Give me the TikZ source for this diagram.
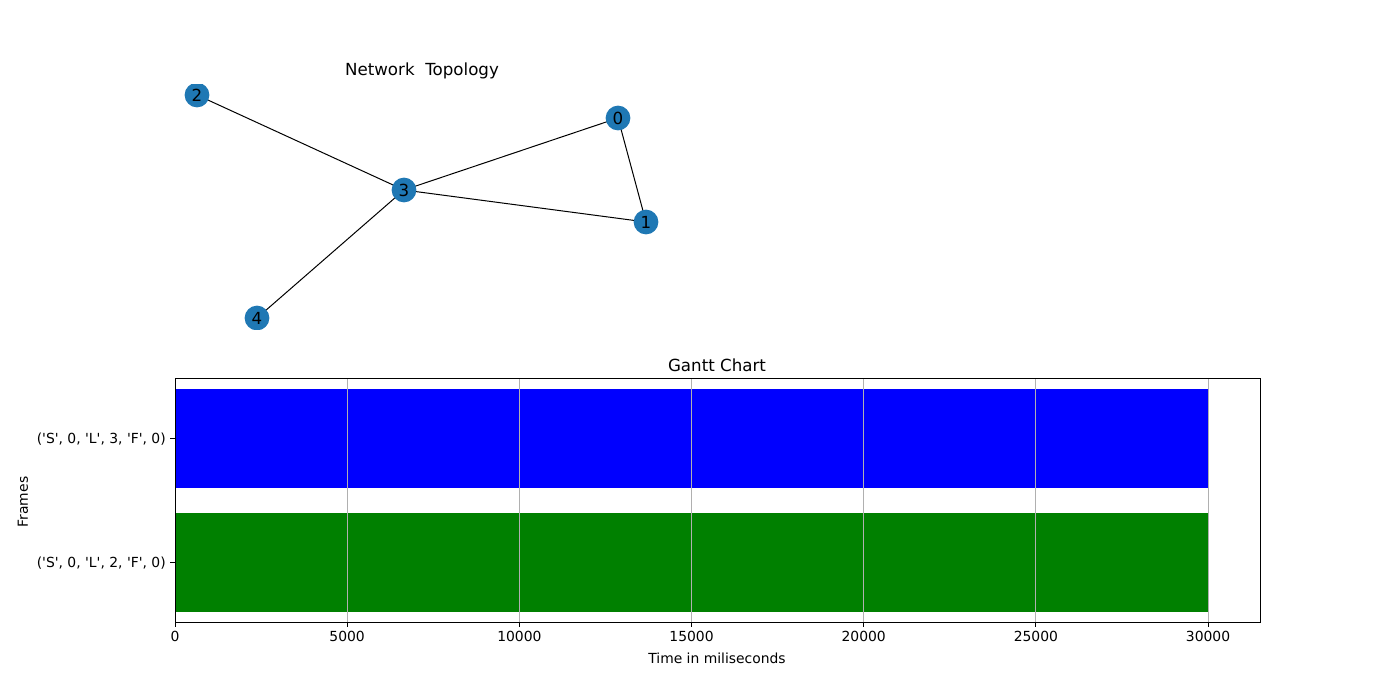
\documentclass[tikz,border=0pt]{standalone}
\usepackage{fontspec}
\setmainfont{DejaVu Sans}
\newcommand{\sqt}{\textquotesingle}
\definecolor{nxblue}{HTML}{1F78B4}
\definecolor{gridgray}{HTML}{B0B0B0}
\definecolor{mplgreen}{HTML}{008000}
\definecolor{mplblue}{HTML}{0000FF}
\begin{document}
\begin{tikzpicture}[x=0.72pt,y=-0.72pt,
  vertex/.style={circle,fill=nxblue,minimum size=17.8pt,inner sep=0pt,font=\fontsize{12}{14}\selectfont},
  edge/.style={black,line width=0.72pt},
  ticklabel/.style={font=\fontsize{10}{12}\selectfont,inner sep=0pt},
  titlelabel/.style={font=\fontsize{12}{14}\selectfont,inner sep=0pt},
  gridline/.style={gridgray,line width=0.58pt},
  tickmark/.style={black,line width=0.58pt}]
\useasboundingbox (0,0) rectangle (1400,700);
% network
\node[titlelabel] (nettitle) at (422,71) {Network\ \ Topology};
\begin{scope}
\clip (0,84) rectangle (1400,329);
\coordinate (p0) at (618,118);
\coordinate (p1) at (646,222);
\coordinate (p2) at (197,95);
\coordinate (p3) at (404,190);
\coordinate (p4) at (257,318);
\draw[edge] (p2) -- (p3);
\draw[edge] (p3) -- (p0);
\draw[edge] (p3) -- (p1);
\draw[edge] (p0) -- (p1);
\draw[edge] (p3) -- (p4);
\node[vertex] (n0) at (p0) {0};
\node[vertex] (n1) at (p1) {1};
\node[vertex] (n2) at (p2) {2};
\node[vertex] (n3) at (p3) {3};
\node[vertex] (n4) at (p4) {4};
\end{scope}
% gantt
\node[titlelabel] (gtitle) at (717,365) {Gantt Chart};
\fill[mplblue] (175,389) rectangle (1208,488);
\fill[mplgreen] (175,513) rectangle (1208,612);
\foreach \i/\lab in {0/0,1/5000,2/10000,3/15000,4/20000,5/25000,6/30000} {
  \pgfmathsetmacro{\xx}{175+172.17*\i}
  \draw[gridline] (\xx,378) -- (\xx,622);
  \draw[tickmark] (\xx,622) -- (\xx,627);
  \node[ticklabel,anchor=north] (xt\i) at (\xx,631) {\lab};
}
\draw[black,line width=0.58pt] (175,378) rectangle (1260,622);
\draw[tickmark] (175,438.5) -- (170,438.5);
\draw[tickmark] (175,562.5) -- (170,562.5);
\node[ticklabel,anchor=east] (yt1) at (166,439) {(\sqt S\sqt, 0, \sqt L\sqt, 3, \sqt F\sqt, 0)};
\node[ticklabel,anchor=east] (yt0) at (166,563) {(\sqt S\sqt, 0, \sqt L\sqt, 2, \sqt F\sqt, 0)};
\node[ticklabel] (xlabel) at (717,658) {Time in miliseconds};
\node[ticklabel,rotate=90] (ylabel) at (23,502) {Frames};
\end{tikzpicture}
\end{document}
